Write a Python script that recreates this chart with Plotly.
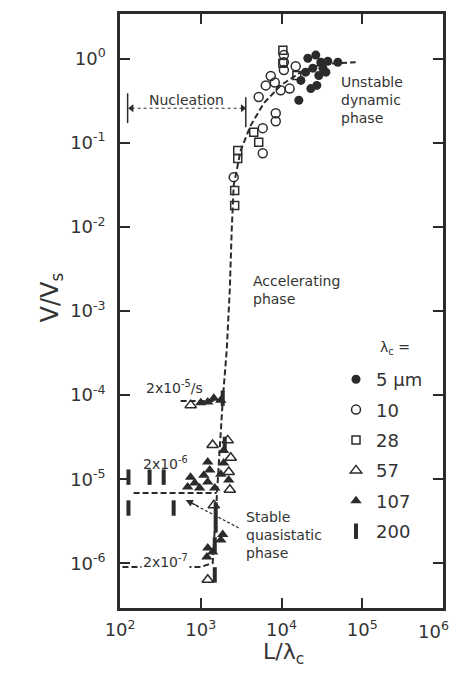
import math
import plotly.graph_objects as go

# ---- data ----
x5 = [21200, 26600, 30700, 37500, 49900, 24400, 29000, 27400, 19900, 16400, 35500, 17400, 23100, 32600]
y5 = [1.01, 1.10, 0.905, 0.93, 0.905, 0.77, 0.63, 0.48, 0.69, 0.32, 0.69, 0.55, 0.44, 0.77]

x10 = [10700, 10700, 10700, 15000, 7360, 8260, 6380, 9770, 12600, 5220, 8490, 8490, 5860, 5860, 2560]
y10 = [1.10, 0.905, 0.73, 0.81, 0.62, 0.52, 0.48, 0.42, 0.44, 0.35, 0.224, 0.18, 0.149, 0.075, 0.039]

x28 = [10400, 10400, 15500, 4530, 5220, 2870, 2870, 2630, 2630]
y28 = [1.26, 0.88, 0.63, 0.133, 0.101, 0.081, 0.065, 0.027, 0.018]

x57 = [750, 1400, 2160, 2350, 2220, 2290, 1450, 1220]
y57 = [7.6e-5, 2.55e-5, 2.9e-5, 1.8e-5, 1.22e-5, 7.5e-6, 4.9e-6, 6.4e-7]

x107 = [1000, 1220, 1450, 1770, 747, 840, 687, 968, 1220, 1290, 1220, 1490, 1920, 1920,
        1770, 2220, 1090, 1220, 1190, 1770, 1870, 1400]
y107 = [8.1e-5, 8.3e-5, 9.2e-5, 8.7e-5, 1.06e-5, 9.0e-6, 8.1e-6, 7.9e-6, 1.6e-5, 1.29e-5,
        9.3e-6, 7.9e-6, 2.2e-5, 1.56e-5, 1.15e-5, 9.8e-6, 1.12e-5, 1.52e-6, 1.19e-6, 1.9e-6,
        2.2e-6, 1.37e-6]

x200 = [127, 127, 232, 347, 461, 1530, 1530, 1490, 1490, 1980, 1870]
y200 = [1.06e-5, 4.55e-6, 1.06e-5, 1.06e-5, 4.55e-6, 4.3e-6, 2.86e-6, 1.66e-6, 7.3e-7, 2.6e-5, 9.2e-5]

# dashed trend curves
curve_x = [107, 998, 1405, 1487, 1574, 1715, 1870, 2096, 2286, 2417, 2560, 3125, 4160,
           6030, 9790, 17300, 30700, 83000]
curve_y = [9.06e-7, 9.06e-7, 1.01e-6, 2.49e-6, 6.87e-6, 2.92e-5, 8.73e-5, 3.43e-4, 1.77e-3,
           9.14e-3, 3.13e-2, 8.15e-2, 0.161, 0.295, 0.482, 0.688, 0.857, 0.905]
line2_x = [147, 1574]
line2_y = [6.87e-6, 6.87e-6]
line3_x = [563, 1870]
line3_y = [8.5e-5, 8.5e-5]

# nucleation bracket
nuc_left_x = [124, 124]
nuc_left_y = [0.387, 0.171]
nuc_right_x = [3610, 3610]
nuc_right_y = [0.348, 0.153]
nuc_arrow_x = [139, 3310]
nuc_arrow_y = [0.257, 0.257]

# quasistatic pointer
qs_x = [2950, 700]
qs_y = [2.64e-6, 5.45e-6]
qs_head = (650, 5.67e-6)

x_ticks = [1e2, 1e3, 1e4, 1e5, 1e6]
x_ticktext = ["10<sup>2</sup>", "10<sup>3</sup>", "10<sup>4</sup>", "10<sup>5</sup>", ""]
x_last_label = "10<sup>6</sup>"
y_ticks = [1e-6, 1e-5, 1e-4, 1e-3, 1e-2, 1e-1, 1e0]
y_ticktext = ["10<sup>-6</sup>", "10<sup>-5</sup>", "10<sup>-4</sup>", "10<sup>-3</sup>",
              "10<sup>-2</sup>", "10<sup>-1</sup>", "10<sup>0</sup>"]

INK = "#2b2b2b"
FONT = "DejaVu Sans"

fig = go.Figure()

dash_style = dict(color=INK, width=2, dash="6px,3px")
fig.add_trace(go.Scatter(x=curve_x, y=curve_y, mode="lines", line=dash_style, showlegend=False, hoverinfo="skip"))
fig.add_trace(go.Scatter(x=line2_x, y=line2_y, mode="lines", line=dash_style, showlegend=False, hoverinfo="skip"))
fig.add_trace(go.Scatter(x=line3_x, y=line3_y, mode="lines", line=dash_style, showlegend=False, hoverinfo="skip"))

# nucleation bracket
for bx, by in [(nuc_left_x, nuc_left_y), (nuc_right_x, nuc_right_y)]:
    fig.add_trace(go.Scatter(x=bx, y=by, mode="lines", line=dict(color=INK, width=1.5),
                             showlegend=False, hoverinfo="skip"))
fig.add_trace(go.Scatter(x=nuc_arrow_x, y=nuc_arrow_y, mode="lines+markers",
                         line=dict(color=INK, width=1, dash="dot"),
                         marker=dict(symbol=["triangle-left", "triangle-right"], size=7, color=INK),
                         showlegend=False, hoverinfo="skip"))
fig.add_trace(go.Scatter(x=qs_x, y=qs_y, mode="lines", line=dict(color=INK, width=1.2, dash="3px,2px"),
                         showlegend=False, hoverinfo="skip"))

series = [
    ("5 µm", x5, y5, dict(symbol="circle", size=9, color=INK, line=dict(width=0))),
    ("10", x10, y10, dict(symbol="circle-open", size=9, color=INK, line=dict(width=1.5))),
    ("28", x28, y28, dict(symbol="square-open", size=8, color=INK, line=dict(width=1.5))),
    ("57", x57, y57, dict(symbol="triangle-up-open", size=10, color=INK, line=dict(width=1.5))),
    ("107", x107, y107, dict(symbol="triangle-up", size=10, color=INK, line=dict(width=0))),
    ("200", x200, y200, dict(symbol="line-ns", size=11, color=INK, line=dict(width=4, color=INK))),
]
for i, (name, xs, ys, mk) in enumerate(series):
    fig.add_trace(go.Scatter(x=xs, y=ys, mode="markers", name=name, marker=mk,
                             legendgroup=f"g{i}", showlegend=True))

ann_font = dict(family=FONT, size=14, color="#333")
L = math.log10
annotations = [
    dict(x=L(668), y=-0.495, text="Nucleation", showarrow=False, font=ann_font),
    dict(x=4.711, y=-0.495, text="Unstable<br>dynamic<br>phase", showarrow=False,
         xanchor="left", align="left", font=ann_font),
    dict(x=3.619, y=-2.752, text="Accelerating<br>phase", showarrow=False,
         xanchor="left", align="left", font=ann_font),
    dict(x=3.532, y=-5.662, text="Stable<br>quasistatic<br>phase", showarrow=False,
         xanchor="left", align="left", font=ann_font),
    dict(x=2.292, y=-3.904, text="2x10<sup>-5</sup>/s", showarrow=False, xanchor="left", font=ann_font),
    dict(x=2.254, y=-4.807, text="2x10<sup>-6</sup>", showarrow=False, xanchor="left", font=ann_font),
    dict(x=2.254, y=-5.971, text="2x10<sup>-7</sup>", showarrow=False, xanchor="left", font=ann_font,
         bgcolor="white"),
    dict(x=L(qs_head[0]), y=L(qs_head[1]), ax=14, ay=7, text="", showarrow=True,
         arrowhead=2, arrowsize=1.2, arrowwidth=1.2, arrowcolor=INK),
    dict(xref="paper", yref="paper", x=(378 - 120) / 323, y=(608 - 348) / 594,
         text="λ<sub>c</sub> =", showarrow=False, xanchor="left", font=dict(family=FONT, size=14, color="#333")),
    dict(xref="paper", yref="paper", x=(33 - 120) / 323, y=(608 - 298) / 594,
         text="V/V<sub>s</sub>", textangle=-90, showarrow=False, font=dict(family=FONT, size=24, color="#333")),
    dict(xref="paper", yref="paper", x=(283 - 120) / 323, y=(608 - 670) / 594,
         text="L/λ<sub>c</sub>", showarrow=False, font=dict(family=FONT, size=22, color="#333")),
    dict(xref="paper", yref="paper", x=(451 - 120) / 323, y=(608 - 630) / 594,
         text=x_last_label, showarrow=False, xanchor="right", yanchor="middle",
         font=dict(family=FONT, size=18, color="#333")),
]

axis_common = dict(type="log", showline=True, linewidth=2.5, linecolor=INK, mirror="allticks",
                   ticks="inside", ticklen=10, tickwidth=1.5, tickcolor=INK, showgrid=False,
                   zeroline=False, automargin=False,
                   tickfont=dict(family=FONT, size=18, color="#333"))

fig.update_layout(
    width=452, height=685,
    margin=dict(l=120, r=9, t=14, b=77, autoexpand=False),
    paper_bgcolor="white", plot_bgcolor="white",
    font=dict(family=FONT, color="#333"),
    xaxis=dict(range=[1.999, 6.001], tickvals=x_ticks, ticktext=x_ticktext, ticklabelstandoff=4, **axis_common),
    yaxis=dict(range=[-6.53, 0.53], tickvals=y_ticks, ticktext=y_ticktext, ticklabelstandoff=8, **axis_common),
    legend=dict(x=(336 - 120) / 323, y=(608 - 361) / 594, xanchor="left", yanchor="top",
                bgcolor="rgba(0,0,0,0)", font=dict(family=FONT, size=18, color="#333"),
                tracegroupgap=4, itemwidth=30),
    annotations=annotations,
)

fig.write_html("out.html")
